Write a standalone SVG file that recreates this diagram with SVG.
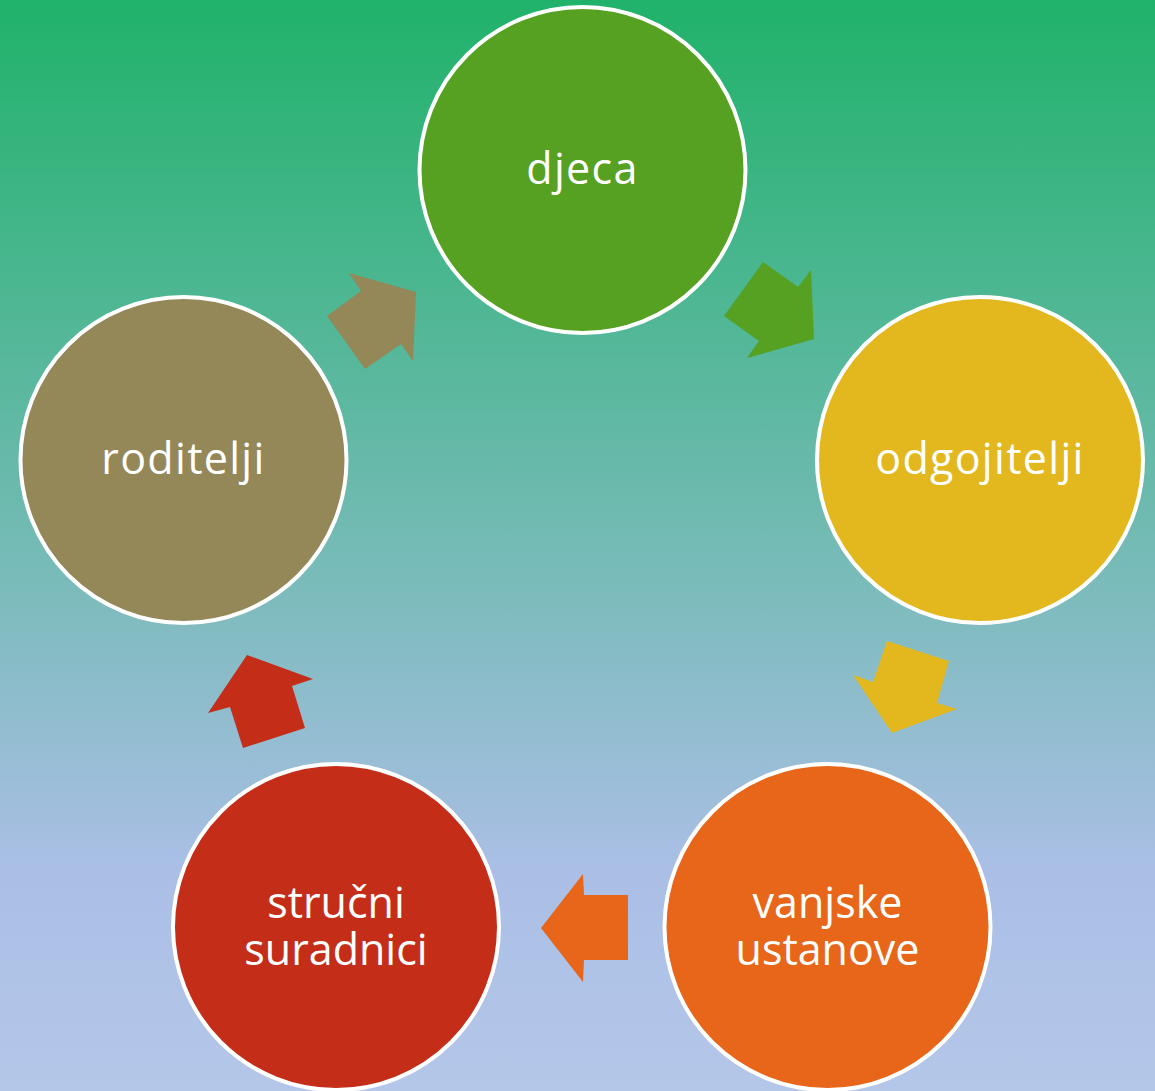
<svg xmlns="http://www.w3.org/2000/svg" width="1155" height="1091" viewBox="0 0 1155 1091">
<defs>
<linearGradient id="bg" x1="0" y1="0" x2="0" y2="1">
<stop offset="0" stop-color="#20b26a"/>
<stop offset="0.45" stop-color="#6bbaad"/>
<stop offset="0.8" stop-color="#abbfe6"/>
<stop offset="1" stop-color="#b4c7e9"/>
</linearGradient>
<style>
.c{stroke:#ffffff;stroke-width:4}
.t{fill:#ffffff;font-family:"Open Sans","Noto Sans",sans-serif;font-size:43px;letter-spacing:1.3px;text-anchor:middle}
.t2{letter-spacing:0px}
</style>
</defs>
<rect width="1155" height="1091" fill="url(#bg)"/>
<g id="connectors">
<polygon points="349,273 416,292 413,361 401,344 365,369 327,316 361,291" fill="#948758"/>
<polygon points="763,262 798,287 811,270 814,339 747,358 759,341 724,316" fill="#56a022"/>
<polygon points="887,641 949,661 937,703 957,709 892,733 853,675 873,682" fill="#e3b81f"/>
<polygon points="583,874 584,895 628,895 628,960 584,960 583,982 541,928" fill="#e86619"/>
<polygon points="247,655 313,679 292,686 305,728 243,748 230,707 208,713" fill="#c42e19"/>
</g>
<g id="djeca">
<circle class="c" cx="582.5" cy="170" r="163" fill="#56a022"/>
<text class="t" x="582.5" y="184">djeca</text>
</g>
<g id="odgojitelji">
<circle class="c" cx="980" cy="460" r="163" fill="#e3b81f"/>
<text class="t" x="980" y="474">odgojitelji</text>
</g>
<g id="vanjske-ustanove">
<circle class="c" cx="827.5" cy="927" r="163" fill="#e86619"/>
<text class="t t2" x="827.5" y="918">vanjske</text>
<text class="t t2" x="827.5" y="965">ustanove</text>
</g>
<g id="strucni-suradnici">
<circle class="c" cx="336" cy="927" r="163" fill="#c42e19"/>
<text class="t t2" x="336" y="918">stručni</text>
<text class="t t2" x="336" y="965">suradnici</text>
</g>
<g id="roditelji">
<circle class="c" cx="183.5" cy="460" r="163" fill="#948758"/>
<text class="t" x="183.5" y="474">roditelji</text>
</g>
</svg>
